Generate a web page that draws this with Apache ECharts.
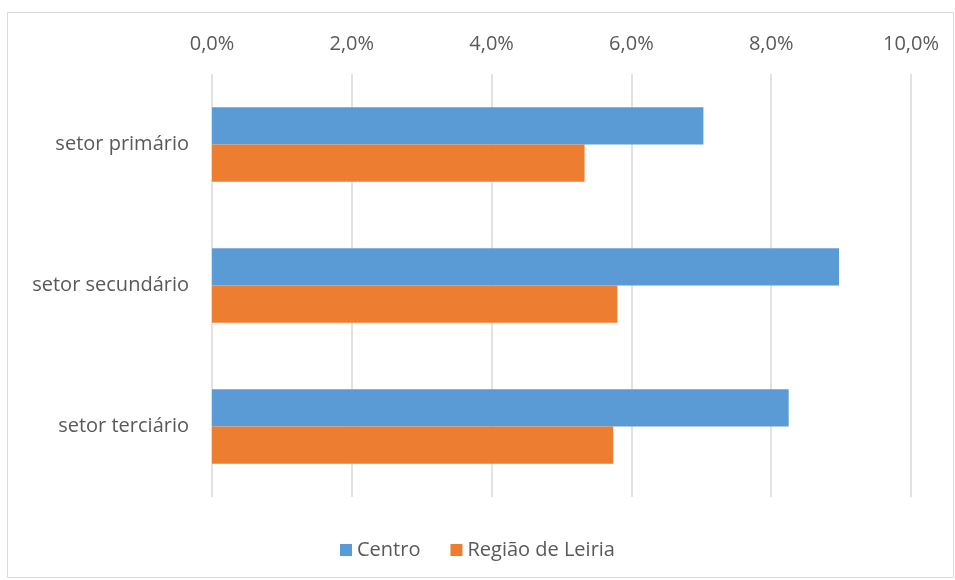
<!DOCTYPE html>
<html>
<head>
<meta charset="utf-8">
<script src="https://cdn.jsdelivr.net/npm/echarts@6/dist/echarts.min.js"></script>
<style>
  html, body { margin: 0; padding: 0; background: #fff; }
  #chart { width: 955px; height: 580px; }
</style>
</head>
<body>
<div id="chart"></div>
<script>
var categories = ['setor primário', 'setor secundário', 'setor terciário']
var centro = [7.03, 8.97, 8.25]
var leiria = [5.33, 5.80, 5.74]
var seriesNames = ['Centro', 'Região de Leiria']

var chart = echarts.init(document.getElementById('chart'))
var font = 'Open Sans'

chart.setOption({
  animation: false,
  textStyle: { fontFamily: font },
  graphic: [{
    type: 'rect',
    shape: { x: 7.5, y: 12.5, width: 946, height: 565 },
    style: { fill: 'none', stroke: '#d9d9d9', lineWidth: 1 },
    silent: true
  }],
  grid: {
    left: 212,
    right: 44,
    top: 74,
    bottom: 83
  },
  legend: {
    data: seriesNames,
    bottom: 15,
    left: 'center',
    itemWidth: 12,
    itemHeight: 12,
    itemGap: 30,
    icon: 'rect',
    textStyle: { color: '#595959', fontSize: 20, fontFamily: font }
  },
  xAxis: {
    type: 'value',
    position: 'top',
    min: 0,
    max: 10,
    interval: 2,
    axisLine: { show: false },
    axisTick: { show: false },
    axisLabel: {
      color: '#595959',
      fontSize: 20,
      margin: 20,
      formatter: function (v) { return v.toFixed(1).replace('.', ',') + '%' }
    },
    splitLine: { lineStyle: { color: '#d9d9d9', width: 1.5 } }
  },
  yAxis: {
    type: 'category',
    inverse: true,
    data: categories,
    axisLine: { show: false },
    axisTick: { show: false },
    axisLabel: { color: '#595959', fontSize: 20, margin: 23 }
  },
  series: [{
    name: seriesNames[0],
    type: 'bar',
    data: centro,
    barGap: '0%',
    barCategoryGap: '47%',
    itemStyle: { color: '#5B9BD5' }
  }, {
    name: seriesNames[1],
    type: 'bar',
    data: leiria,
    itemStyle: { color: '#ED7D31' }
  }]
})
</script>
</body>
</html>
